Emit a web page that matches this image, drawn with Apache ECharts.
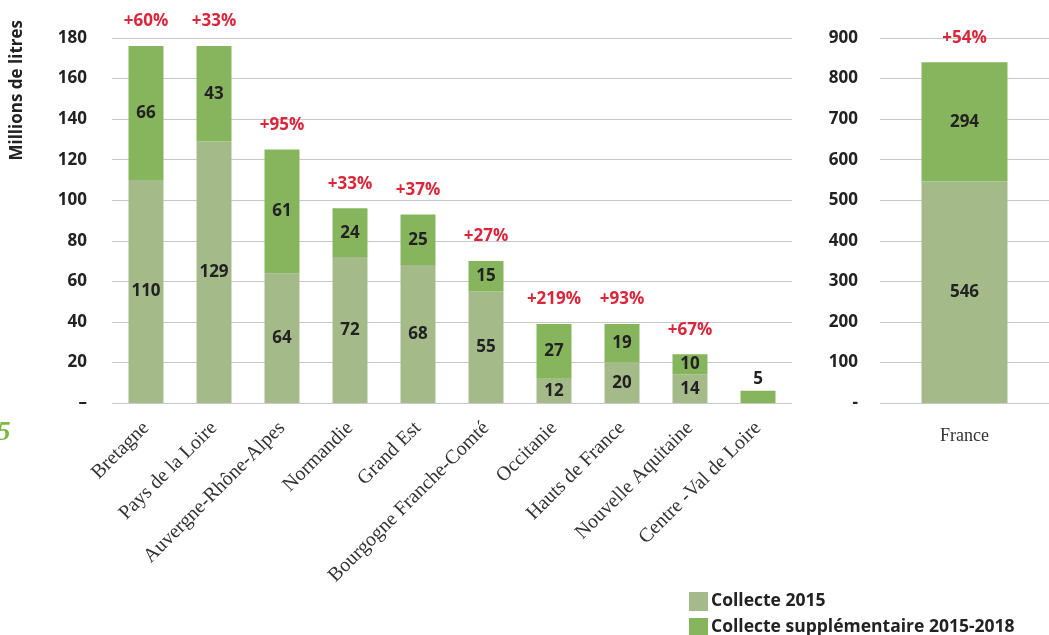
<!DOCTYPE html>
<html><head><meta charset="utf-8">
<script src="https://cdn.jsdelivr.net/npm/echarts@6/dist/echarts.min.js"></script>
<style>html,body{margin:0;padding:0;background:#fff}#c{width:1049px;height:635px}</style>
</head><body><div id="c"></div>
<script>
const regions = ['Bretagne','Pays de la Loire','Auvergne-Rhône-Alpes','Normandie','Grand Est','Bourgogne Franche-Comté','Occitanie','Hauts de France','Nouvelle Aquitaine','Centre -Val de Loire'];
const collecte2015 = [110,129,64,72,68,55,12,20,14,0];
const supplement = [66,47,61,24,25,15,27,19,10,6];
const supplementLabels = ['66','43','61','24','25','15','27','19','10','5'];
const growth = ['+60%','+33%','+95%','+33%','+37%','+27%','+219%','+93%','+67%',''];
const franceCat = ['France'];
const france2015 = [546];
const franceSupp = [294];
const franceGrowth = ['+54%'];
const leftTicks = {0:'–'};
const rightTicks = {0:'-'};

const C1 = '#a4bb89', C2 = '#87b55d', RED = '#d9263a';
const SANS = '"Open Sans", "Noto Sans", sans-serif';
const SERIF = '"Liberation Serif", serif';
const valLabel = {show:true, position:'inside', color:'#222', fontFamily:SANS, fontWeight:'bold', fontSize:17};
const pctLabel = {show:true, position:'top', distance:16, color:RED, fontFamily:SANS, fontWeight:'bold', fontSize:17};
const legendText = {fontFamily:SANS, fontWeight:'bold', fontSize:17.5, color:'#222', padding:[0,0,0,-2]};

const chart = echarts.init(document.getElementById('c'));
chart.setOption({
  animation:false,
  grid:[
    {left:112, right:257, top:38, bottom:232},
    {left:880, right:0, top:38, bottom:232}
  ],
  legend:[
    {data:['Collecte 2015'], left:684, top:587, itemWidth:19, itemHeight:19, icon:'rect', textStyle:legendText},
    {data:['Collecte supplémentaire 2015-2018'], left:684, top:613, itemWidth:19, itemHeight:19, icon:'rect', textStyle:legendText}
  ],
  graphic:[
    {type:'text', left:9, top:20, rotation:Math.PI/2, style:{text:'Millions de litres', font:'bold 17px '+SANS, fill:'#222'}},
    {type:'text', x:-3, y:420, style:{text:'5', font:'italic bold 27px "Liberation Serif", serif', fill:'#7ab648'}}
  ],
  xAxis:[
    {type:'category', gridIndex:0, data:regions, axisTick:{show:false}, axisLine:{show:false},
     axisLabel:{rotate:45, margin:22, interval:0, fontFamily:SERIF, fontSize:20, color:'#333'}},
    {type:'category', gridIndex:1, data:franceCat, axisTick:{show:false}, axisLine:{show:false},
     axisLabel:{margin:24, fontFamily:SERIF, fontSize:18, color:'#333'}}
  ],
  yAxis:[
    {type:'value', gridIndex:0, min:0, max:180, interval:20, axisLine:{show:false}, axisTick:{show:false},
     splitLine:{lineStyle:{color:'#c8c8c8', width:1}},
     axisLabel:{margin:25, fontFamily:SANS, fontWeight:'bold', fontSize:17, color:'#222',
       formatter:v=>leftTicks[v]!==undefined?leftTicks[v]:String(v)}},
    {type:'value', gridIndex:1, min:0, max:900, interval:100, axisLine:{show:false}, axisTick:{show:false},
     splitLine:{lineStyle:{color:'#c8c8c8', width:1}},
     axisLabel:{margin:22, fontFamily:SANS, fontWeight:'bold', fontSize:17, color:'#222',
       formatter:v=>rightTicks[v]!==undefined?rightTicks[v]:String(v)}}
  ],
  series:[
    {name:'Collecte 2015', type:'bar', stack:'a', xAxisIndex:0, yAxisIndex:0, barWidth:35, itemStyle:{color:C1},
     label:Object.assign({}, valLabel, {formatter:p=>p.value?String(p.value):''}), data:collecte2015},
    {name:'Collecte supplémentaire 2015-2018', type:'bar', stack:'a', xAxisIndex:0, yAxisIndex:0, barWidth:35, itemStyle:{color:C2},
     label:valLabel,
     data:supplement.map((v,i)=>collecte2015[i]===0
       ? {value:v, label:{position:'top', distance:3, formatter:supplementLabels[i]}}
       : {value:v, label:{formatter:supplementLabels[i]}})},
    {name:'pct', type:'bar', stack:'a', xAxisIndex:0, yAxisIndex:0, barWidth:35, itemStyle:{color:'transparent'},
     label:Object.assign({}, pctLabel, {formatter:p=>growth[p.dataIndex]}), data:regions.map(()=>0)},
    {name:'Collecte 2015', type:'bar', stack:'b', xAxisIndex:1, yAxisIndex:1, barWidth:86, itemStyle:{color:C1},
     label:valLabel, data:france2015},
    {name:'Collecte supplémentaire 2015-2018', type:'bar', stack:'b', xAxisIndex:1, yAxisIndex:1, barWidth:86, itemStyle:{color:C2},
     label:valLabel, data:franceSupp},
    {name:'pctF', type:'bar', stack:'b', xAxisIndex:1, yAxisIndex:1, barWidth:86, itemStyle:{color:'transparent'},
     label:Object.assign({}, pctLabel, {formatter:p=>franceGrowth[p.dataIndex]}), data:franceCat.map(()=>0)}
  ]
});
</script></body></html>
